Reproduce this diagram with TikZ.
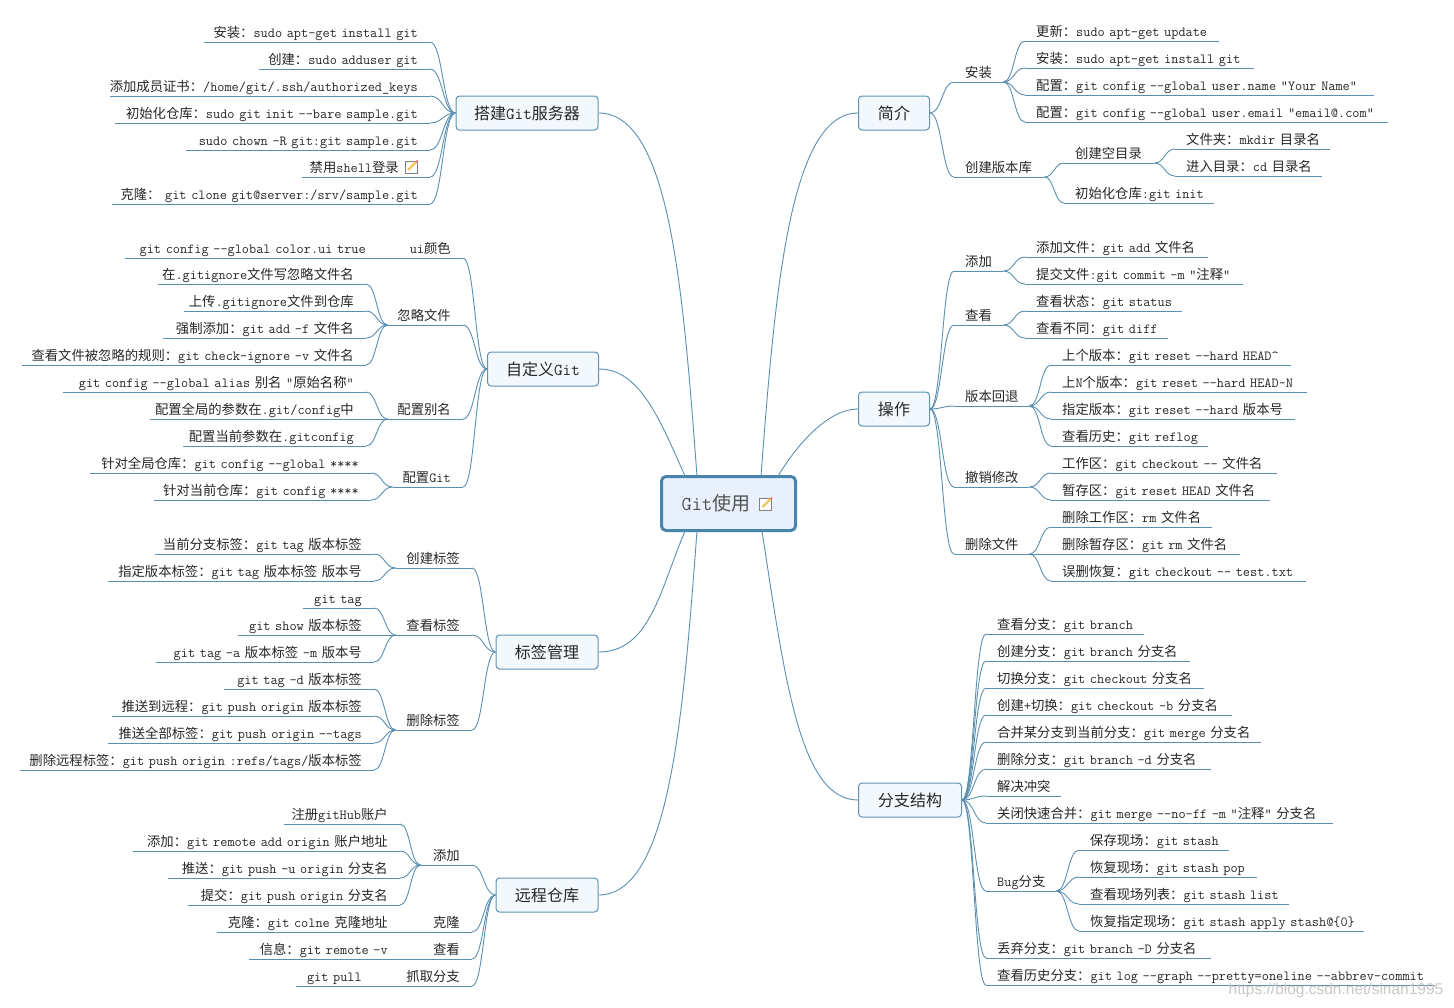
\documentclass[tikz,border=0pt]{standalone}
\usepackage{fontspec}
\usepackage{xcolor}
\usetikzlibrary{calc}
\newfontfamily\zhfont[Scale=0.959]{Noto Sans CJK SC}
\newfontfamily\markfont{Liberation Sans}
\definecolor{linkblue}{HTML}{5A8FB0}
\definecolor{boxedge}{HTML}{5F93B5}
\definecolor{boxfill}{HTML}{F3F8FD}
\definecolor{rootedge}{HTML}{4A84AC}
\definecolor{rootfill}{HTML}{E8F1FB}
\definecolor{inktext}{HTML}{262626}
\definecolor{pencil}{HTML}{F2C65A}
\newcommand{\zh}[1]{{\zhfont #1}}
\tikzset{
  branch/.style={draw=linkblue,line width=0.9pt},
  leaf/.style={font=\fontsize{13.9}{16}\selectfont\ttfamily,text=inktext,inner xsep=0pt,inner ysep=1pt,text height=10pt,text depth=3pt},
  topicbox/.style={draw=boxedge,fill=boxfill,line width=1pt,rounded corners=3.5pt,minimum height=34pt,inner sep=0pt,text=inktext,font=\fontsize{16.7}{19}\selectfont\ttfamily},
  rootbox/.style={draw=rootedge,fill=rootfill,line width=3pt,rounded corners=4.5pt,minimum width=134pt,minimum height=54pt,inner sep=0pt,text=inktext!80,font=\fontsize{19.8}{22}\selectfont\ttfamily},
  watermark/.style={text=black!22,font=\fontsize{15.5}{17}\selectfont\markfont,inner sep=0pt},
  noteicon/.pic={
    \draw[draw=black!50,fill=white,line width=0.8pt] (-6,-6) rectangle (6,6);
    \draw[draw=pencil,line width=2.4pt] (-3,3) -- (5,-5);
    \draw[draw=red!60,line width=1.2pt] (4.8,-4.8) -- (6.6,-6.6);
  }
}
\newcommand{\rleaf}[6]{%
  \node[leaf,anchor=south west,align=left,text width={(#4-#3)*1pt}] (#2) at (#3,#5) {\hspace*{11pt}#6};
  \draw[branch] (#2.south west) -- (#2.south east);
  \draw[branch] let \p1=(#1),\p2=(#2.south west) in (\p1) .. controls ({(\x1+\x2)/2},\y1) and ({(\x1+\x2)/2},\y2) .. (\p2);
}
\newcommand{\lleaf}[6]{%
  \node[leaf,anchor=south east,align=right,text width={(#4-#3)*1pt}] (#2) at (#4,#5) {#6\hspace*{12pt}};
  \draw[branch] (#2.south west) -- (#2.south east);
  \draw[branch] let \p1=(#1),\p2=(#2.south east) in (\p1) .. controls ({(\x1+\x2)/2},\y1) and ({(\x1+\x2)/2},\y2) .. (\p2);
}
\begin{document}
\begin{tikzpicture}[x=1pt,y=-1pt]
    \useasboundingbox (0,0) rectangle (1454,1007);
    \node[topicbox,minimum width=71pt] (jianjie) at (894,113) {\zh{简介}};
    \node[topicbox,minimum width=71pt] (caozuo) at (894,409) {\zh{操作}};
    \node[topicbox,minimum width=103pt] (fenzhi) at (910,800) {\zh{分支结构}};
    \node[topicbox,minimum width=142pt] (dajian) at (527,113) {\zh{搭建}Git\zh{服务器}};
    \node[topicbox,minimum width=111pt] (zidingyi) at (543,369) {\zh{自定义}Git};
    \node[topicbox,minimum width=102pt] (biaoqian) at (547,652) {\zh{标签管理}};
    \node[topicbox,minimum width=102pt] (yuancheng) at (547,895) {\zh{远程仓库}};
    \node[rootbox] (root) at (728.5,503.5) {Git\zh{使用}\hspace*{25pt}};
    \pic at (765.5,504) {noteicon};
    \coordinate (rootjj) at (761,476);
    \coordinate (rootcz) at (778,476);
    \coordinate (rootfz) at (762,531);
    \coordinate (rootdj) at (697,476);
    \coordinate (rootzd) at (685,476);
    \coordinate (rootbq) at (685,531);
    \coordinate (rootyc) at (697,531);
    \draw[branch] (rootjj) .. controls (775,290) and (790,113) .. (jianjie.west);
    \draw[branch] (rootcz) .. controls (800,440) and (830,409) .. (caozuo.west);
    \draw[branch] (rootfz) .. controls (785,680) and (800,800) .. (fenzhi.west);
    \draw[branch] (rootdj) .. controls (683,290) and (670,113) .. (dajian.east);
    \draw[branch] (rootzd) .. controls (660,420) and (640,369) .. (zidingyi.east);
    \draw[branch] (rootbq) .. controls (660,590) and (650,652) .. (biaoqian.east);
    \draw[branch] (rootyc) .. controls (683,717) and (670,895) .. (yuancheng.east);

    \rleaf{jianjie.east}{jjaz}{954}{1003}{82}{\zh{安装}}
    \rleaf{jjaz.south east}{jjaz1}{1025}{1219}{41}{\zh{更新：}sudo apt-get update}
    \rleaf{jjaz.south east}{jjaz2}{1025}{1254}{68}{\zh{安装：}sudo apt-get install git}
    \rleaf{jjaz.south east}{jjaz3}{1025}{1374}{95}{\zh{配置：}git config --global user.name “Your Name”}
    \rleaf{jjaz.south east}{jjaz4}{1025}{1388}{122}{\zh{配置：}git config --global user.email “email@.com”}
    \rleaf{jianjie.east}{jjcj}{954}{1044}{177}{\zh{创建版本库}}
    \rleaf{jjcj.south east}{jjml}{1064}{1154}{163}{\zh{创建空目录}}
    \rleaf{jjml.south east}{jjml1}{1175}{1330}{149}{\zh{文件夹：}mkdir \zh{目录名}}
    \rleaf{jjml.south east}{jjml2}{1175}{1322}{176}{\zh{进入目录：}cd \zh{目录名}}
    \rleaf{jjcj.south east}{jjcs}{1064}{1214}{203}{\zh{初始化仓库}:git init}

    \rleaf{caozuo.east}{cztj}{954}{1003}{271}{\zh{添加}}
    \rleaf{cztj.south east}{cztj1}{1025}{1208}{257}{\zh{添加文件：}git add \zh{文件名}}
    \rleaf{cztj.south east}{cztj2}{1025}{1243}{284}{\zh{提交文件}:git commit -m “\zh{注释}”}
    \rleaf{caozuo.east}{czck}{954}{1003}{325}{\zh{查看}}
    \rleaf{czck.south east}{czck1}{1025}{1182}{311}{\zh{查看状态：}git status}
    \rleaf{czck.south east}{czck2}{1025}{1168}{338}{\zh{查看不同：}git diff}
    \rleaf{caozuo.east}{czht}{954}{1029}{406}{\zh{版本回退}}
    \rleaf{czht.south east}{czht1}{1051}{1291}{365}{\zh{上个版本：}git reset --hard HEAD\textasciicircum}
    \rleaf{czht.south east}{czht2}{1051}{1307}{392}{\zh{上}N\zh{个版本：}git reset --hard HEAD\textasciitilde N}
    \rleaf{czht.south east}{czht3}{1051}{1295}{419}{\zh{指定版本：}git reset --hard \zh{版本号}}
    \rleaf{czht.south east}{czht4}{1051}{1208}{446}{\zh{查看历史：}git reflog}
    \rleaf{caozuo.east}{czcx}{954}{1029}{487}{\zh{撤销修改}}
    \rleaf{czcx.south east}{czcx1}{1051}{1277}{473}{\zh{工作区：}git checkout -- \zh{文件名}}
    \rleaf{czcx.south east}{czcx2}{1051}{1270}{500}{\zh{暂存区：}git reset HEAD \zh{文件名}}
    \rleaf{caozuo.east}{czsc}{954}{1029}{554}{\zh{删除文件}}
    \rleaf{czsc.south east}{czsc1}{1051}{1212}{527}{\zh{删除工作区：}rm \zh{文件名}}
    \rleaf{czsc.south east}{czsc2}{1051}{1240}{554}{\zh{删除暂存区：}git rm \zh{文件名}}
    \rleaf{czsc.south east}{czsc3}{1051}{1306}{581}{\zh{误删恢复：}git checkout -- test.txt}

    \rleaf{fenzhi.east}{fz1}{986}{1144}{634}{\zh{查看分支：}git branch}
    \rleaf{fenzhi.east}{fz2}{986}{1190}{661}{\zh{创建分支：}git branch \zh{分支名}}
    \rleaf{fenzhi.east}{fz3}{986}{1204}{688}{\zh{切换分支：}git checkout \zh{分支名}}
    \rleaf{fenzhi.east}{fz4}{986}{1232}{715}{\zh{创建}+\zh{切换：}git checkout -b \zh{分支名}}
    \rleaf{fenzhi.east}{fz5}{986}{1261}{742}{\zh{合并某分支到当前分支：}git merge \zh{分支名}}
    \rleaf{fenzhi.east}{fz6}{986}{1211}{769}{\zh{删除分支：}git branch -d \zh{分支名}}
    \rleaf{fenzhi.east}{fz7}{986}{1061}{796}{\zh{解决冲突}}
    \rleaf{fenzhi.east}{fz8}{986}{1333}{823}{\zh{关闭快速合并：}git merge --no-ff -m “\zh{注释}” \zh{分支名}}
    \rleaf{fenzhi.east}{fzbug}{986}{1056}{891}{Bug\zh{分支}}
    \rleaf{fzbug.south east}{fzbug1}{1079}{1229}{850}{\zh{保存现场：}git stash}
    \rleaf{fzbug.south east}{fzbug2}{1079}{1257}{877}{\zh{恢复现场：}git stash pop}
    \rleaf{fzbug.south east}{fzbug3}{1079}{1289}{904}{\zh{查看现场列表：}git stash list}
    \rleaf{fzbug.south east}{fzbug4}{1079}{1364}{931}{\zh{恢复指定现场：}git stash apply stash@\{0\}}
    \rleaf{fenzhi.east}{fz9}{986}{1211}{958}{\zh{丢弃分支：}git branch -D \zh{分支名}}
    \rleaf{fenzhi.east}{fz10}{986}{1435}{985}{\zh{查看历史分支：}git log --graph --pretty=oneline --abbrev-commit}

    \lleaf{dajian.west}{dj1}{204}{430}{42}{\zh{安装：}sudo apt-get install git}
    \lleaf{dajian.west}{dj2}{259}{430}{69}{\zh{创建：}sudo adduser git}
    \lleaf{dajian.west}{dj3}{110}{430}{96}{\zh{添加成员证书：}/home/git/.ssh/authorized\_keys}
    \lleaf{dajian.west}{dj4}{115}{430}{123}{\zh{初始化仓库：}sudo git init --bare sample.git}
    \lleaf{dajian.west}{dj5}{186}{430}{150}{sudo chown -R git:git sample.git}
    \lleaf{dajian.west}{dj6}{302}{430}{177}{\zh{禁用}shell\zh{登录}\hspace*{19pt}}
    \pic at (411,167) {noteicon};
    \lleaf{dajian.west}{dj7}{112}{430}{204}{\zh{克隆：} git clone git@server:/srv/sample.git}

    \lleaf{zidingyi.west}{zdui}{388}{463}{258}{ui\zh{颜色}}
    \lleaf{zdui.south west}{zdui1}{125}{378}{258}{git config --global color.ui true}
    \lleaf{zidingyi.west}{zdhl}{388}{463}{325}{\zh{忽略文件}}
    \lleaf{zdhl.south west}{zdhl1}{158}{366}{284}{\zh{在}.gitignore\zh{文件写忽略文件名}}
    \lleaf{zdhl.south west}{zdhl2}{184}{366}{311}{\zh{上传}.gitignore\zh{文件到仓库}}
    \lleaf{zdhl.south west}{zdhl3}{163}{366}{338}{\zh{强制添加：}git add -f \zh{文件名}}
    \lleaf{zdhl.south west}{zdhl4}{22}{366}{365}{\zh{查看文件被忽略的规则：}git check-ignore -v \zh{文件名}}
    \lleaf{zidingyi.west}{zdbm}{388}{463}{419}{\zh{配置别名}}
    \lleaf{zdbm.south west}{zdbm1}{63}{366}{392}{git config --global alias \zh{别名} “\zh{原始名称}”}
    \lleaf{zdbm.south west}{zdbm2}{150}{366}{419}{\zh{配置全局的参数在}.git/config\zh{中}}
    \lleaf{zdbm.south west}{zdbm3}{183}{366}{446}{\zh{配置当前参数在}.gitconfig}
    \lleaf{zidingyi.west}{zdgit}{393}{463}{487}{\zh{配置}Git}
    \lleaf{zdgit.south west}{zdgit1}{90}{371}{473}{\zh{针对全局仓库：}git config --global ****}
    \lleaf{zdgit.south west}{zdgit2}{154}{371}{500}{\zh{针对当前仓库：}git config ****}

    \lleaf{biaoqian.west}{bqcj}{396}{472}{568}{\zh{创建标签}}
    \lleaf{bqcj.south west}{bqcj1}{155}{374}{554}{\zh{当前分支标签：}git tag \zh{版本标签}}
    \lleaf{bqcj.south west}{bqcj2}{108}{374}{581}{\zh{指定版本标签：}git tag \zh{版本标签} \zh{版本号}}
    \lleaf{biaoqian.west}{bqck}{396}{472}{635}{\zh{查看标签}}
    \lleaf{bqck.south west}{bqck1}{303}{374}{608}{git tag}
    \lleaf{bqck.south west}{bqck2}{238}{374}{635}{git show \zh{版本标签}}
    \lleaf{bqck.south west}{bqck3}{156}{374}{662}{git tag -a \zh{版本标签} -m \zh{版本号}}
    \lleaf{biaoqian.west}{bqsc}{396}{472}{730}{\zh{删除标签}}
    \lleaf{bqsc.south west}{bqsc1}{224}{374}{689}{git tag -d \zh{版本标签}}
    \lleaf{bqsc.south west}{bqsc2}{112}{374}{716}{\zh{推送到远程：}git push origin \zh{版本标签}}
    \lleaf{bqsc.south west}{bqsc3}{108}{374}{743}{\zh{推送全部标签：}git push origin --tags}
    \lleaf{bqsc.south west}{bqsc4}{20}{374}{770}{\zh{删除远程标签：}git push origin :refs/tags/\zh{版本标签}}

    \lleaf{yuancheng.west}{yctj}{421}{472}{865}{\zh{添加}}
    \lleaf{yctj.south west}{yctj1}{284}{400}{824}{\zh{注册}gitHub\zh{账户}}
    \lleaf{yctj.south west}{yctj2}{133}{400}{851}{\zh{添加：}git remote add origin \zh{账户地址}}
    \lleaf{yctj.south west}{yctj3}{168}{400}{878}{\zh{推送：}git push -u origin \zh{分支名}}
    \lleaf{yctj.south west}{yctj4}{188}{400}{905}{\zh{提交：}git push origin \zh{分支名}}
    \lleaf{yuancheng.west}{yckl}{421}{472}{932}{\zh{克隆}}
    \lleaf{yckl.south west}{yckl1}{217}{400}{932}{\zh{克隆：}git colne \zh{克隆地址}}
    \lleaf{yuancheng.west}{ycck}{421}{472}{959}{\zh{查看}}
    \lleaf{ycck.south west}{ycck1}{249}{400}{959}{\zh{信息：}git remote -v}
    \lleaf{yuancheng.west}{yczq}{396}{472}{986}{\zh{抓取分支}}
    \lleaf{yczq.south west}{yczq1}{296}{374}{986}{git pull}
    \node[watermark] (mark) at (1336,990) {https://blog.csdn.net/sinan1995};
\end{tikzpicture}
\end{document}
